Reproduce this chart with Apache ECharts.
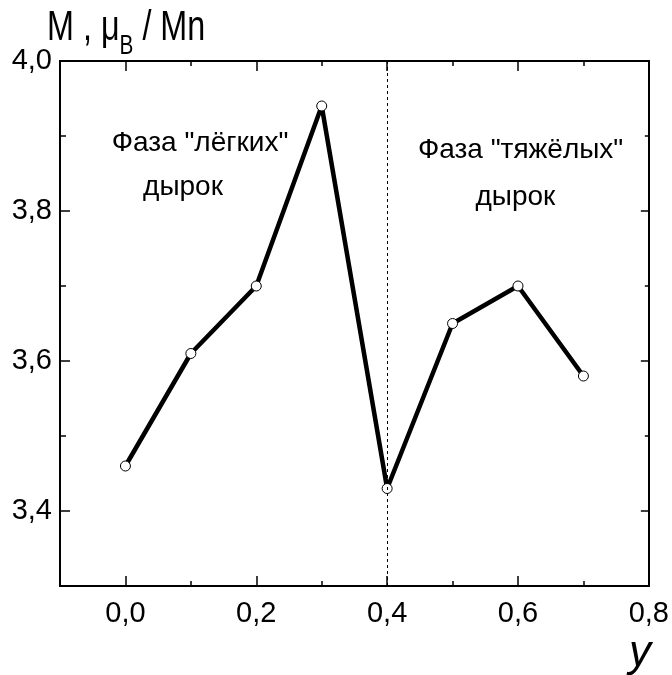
<!DOCTYPE html>
<html>
<head>
<meta charset="utf-8">
<script src="https://cdn.jsdelivr.net/npm/echarts@6/dist/echarts.min.js"></script>
<style>html,body{margin:0;padding:0;background:#fff}#c{width:672px;height:675px}</style>
</head>
<body>
<div id="c"></div>
<script>
// ---- data ----
const xValues = [0.0, 0.1, 0.2, 0.3, 0.4, 0.5, 0.6, 0.7];
const mValues = [3.46, 3.61, 3.70, 3.94, 3.43, 3.65, 3.70, 3.58];
const xMajorTicks = [0.0, 0.2, 0.4, 0.6, 0.8];
const xMinorTicks = [0.1, 0.3, 0.5, 0.7];
const yMajorTicks = [3.4, 3.6, 3.8, 4.0];
const yMinorTicks = [3.5, 3.7, 3.9];
const phaseBoundary = 0.4;
const annotations = [
  { text: 'Фаза "лёгких"', x: 0.114, y: 3.890 },
  { text: 'дырок', x: 0.088, y: 3.831 },
  { text: 'Фаза "тяжёлых"', x: 0.604, y: 3.881 },
  { text: 'дырок', x: 0.596, y: 3.818 }
];

const FONT = '"Liberation Sans", Arial, sans-serif';
const fmt = v => (Math.round(v * 10) / 10).toFixed(1).replace('.', ',');
const pts = xValues.map((x, i) => [x, mValues[i]]);

const chart = echarts.init(document.getElementById('c'), null, { renderer: 'canvas' });

function xAxisDef(pos, ticks, len, showLabel) {
  return {
    type: 'value', position: pos, min: -0.1, max: 0.8, interval: 0.1,
    axisLine: { show: true, onZero: false, lineStyle: { color: '#000', width: 2 } },
    axisTick: { show: true, inside: true, length: len, customValues: ticks, lineStyle: { color: '#000', width: 1.5 } },
    axisLabel: showLabel ? { show: true, customValues: xMajorTicks, formatter: fmt, fontFamily: FONT, fontSize: 29, color: '#000', margin: 13 } : { show: false },
    splitLine: { show: false }
  };
}
function yAxisDef(pos, ticks, len, showLabel) {
  return {
    type: 'value', position: pos, min: 3.3, max: 4.0, interval: 0.1,
    axisLine: { show: true, onZero: false, lineStyle: { color: '#000', width: 2 } },
    axisTick: { show: true, inside: true, length: len, customValues: ticks, lineStyle: { color: '#000', width: 1.5 } },
    axisLabel: showLabel ? { show: true, customValues: yMajorTicks, formatter: fmt, fontFamily: FONT, fontSize: 29, color: '#000', margin: 8 } : { show: false },
    splitLine: { show: false }
  };
}

chart.setOption({
  animation: false,
  backgroundColor: '#fff',
  grid: { left: 60, right: 22, top: 61, bottom: 89, containLabel: false },
  xAxis: [
    xAxisDef('bottom', xMajorTicks, 10, true),
    xAxisDef('bottom', xMinorTicks, 5, false),
    xAxisDef('top', xMajorTicks, 10, false),
    xAxisDef('top', xMinorTicks, 5, false)
  ],
  yAxis: [
    yAxisDef('left', yMajorTicks, 10, true),
    yAxisDef('left', yMinorTicks, 6, false),
    yAxisDef('right', yMajorTicks, 8, false),
    yAxisDef('right', yMinorTicks, 4, false)
  ],
  series: [{
    type: 'line',
    xAxisIndex: 0, yAxisIndex: 0,
    data: pts,
    lineStyle: { color: '#000', width: 4.5 },
    symbol: 'circle', symbolSize: 10,
    itemStyle: { color: '#fff', borderColor: '#000', borderWidth: 1 },
    z: 3,
    markLine: {
      silent: true, symbol: 'none', label: { show: false },
      lineStyle: { color: '#000', width: 1, type: [3, 3] },
      data: [{ xAxis: phaseBoundary }]
    }
  }, {
    type: 'scatter',
    xAxisIndex: 0, yAxisIndex: 0,
    data: annotations.map(a => ({ value: [a.x, a.y], label: { formatter: a.text } })),
    symbolSize: 0,
    silent: true,
    itemStyle: { color: '#000', opacity: 1 },
    label: { show: true, position: 'inside', fontFamily: FONT, fontSize: 28, color: '#000', textBorderWidth: 0, opacity: 1 },
    z: 4
  }],
  graphic: [
    {
      type: 'text', x: 47, y: -3, scaleX: 0.77,
      style: {
        text: '{a|M , μ}{b|B}{a| / Mn}',
        verticalAlign: 'top',
        rich: {
          a: { fontFamily: FONT, fontSize: 42, lineHeight: 63, fill: '#000' },
          b: { fontFamily: FONT, fontSize: 27, fill: '#000', verticalAlign: 'bottom' }
        }
      }
    },
    {
      type: 'text', right: 21, bottom: -1,
      style: { text: 'y', fontFamily: FONT, fontSize: 44, fontStyle: 'italic', fill: '#000' }
    }
  ]
});
</script>
</body>
</html>
